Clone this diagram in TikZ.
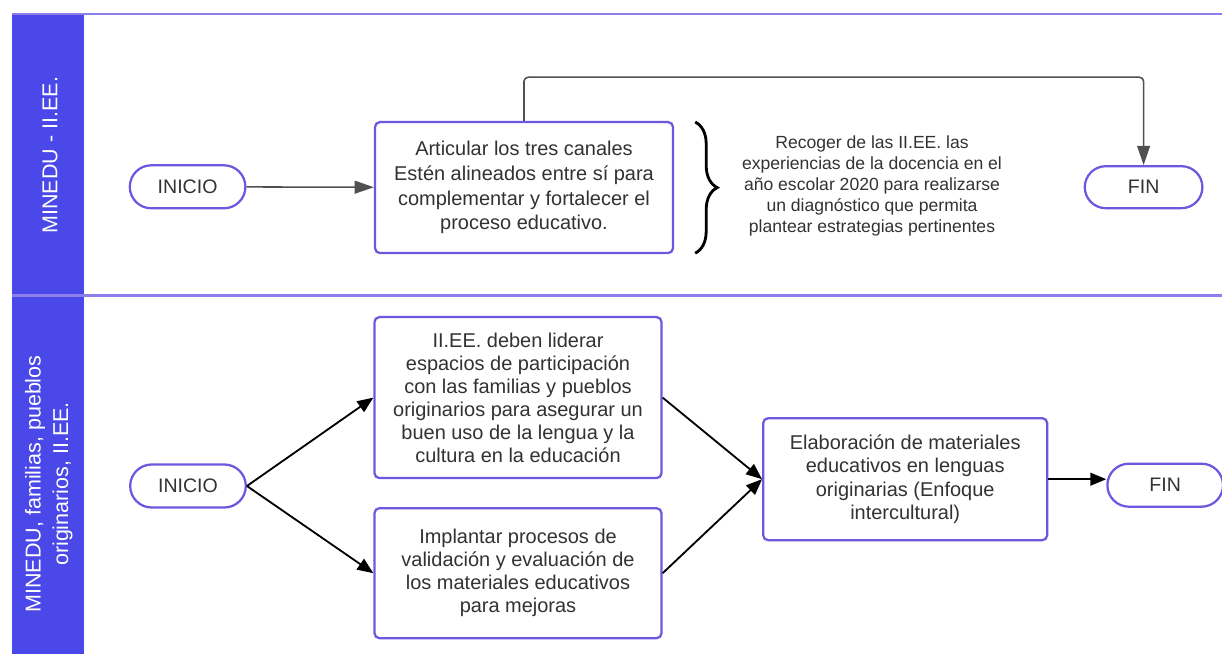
\documentclass[tikz,border=0pt]{standalone}
\usepackage{fontspec}
\setmainfont{Liberation Sans}
\usetikzlibrary{arrows.meta,shapes.misc,decorations.pathreplacing}

\definecolor{laneblue}{RGB}{74,72,232}
\definecolor{lanerule}{RGB}{140,126,236}
\definecolor{boxedge}{RGB}{108,88,222}
\definecolor{txtgray}{RGB}{50,50,50}
\definecolor{arrgray}{RGB}{80,80,80}

\begin{document}
\begin{tikzpicture}[
	proc/.style={draw=boxedge, line width=1.6pt, rounded corners=3.5pt, fill=white, align=center, text=txtgray, font=\fontsize{14.2}{16.4}\selectfont},
	term/.style={draw=boxedge, line width=1.6pt, rounded rectangle, minimum width=3.125cm, minimum height=1.075cm, text=txtgray, font=\fontsize{13.9}{16}\selectfont},
	flowg/.style={draw=arrgray, line width=1.1pt, -{Triangle[length=0.48cm,width=0.32cm]}},
	flowk/.style={draw=black, line width=1.3pt, -{Triangle[length=0.4cm,width=0.32cm]}},
	lanetxt/.style={text=white, rotate=90, align=center, font=\fontsize{15.3}{19.5}\selectfont}
	]
			\useasboundingbox (0,0) rectangle (30.55,-16.35);
			% lanes
			\fill[laneblue] (0.3,-0.33) rectangle (2.1,-16.35);
			\draw[lanerule, line width=2pt] (0.3,-0.35) -- (30.55,-0.35);
			\draw[lanerule, line width=2pt] (0.3,-7.38) -- (30.55,-7.38);
			\node[lanetxt] (lane1) at (1.25,-3.88) {MINEDU - II.EE.};
			\node[lanetxt] (lane2) at (1.22,-12.1) {MINEDU, familias, pueblos\\originarios, II.EE.};

			% first lane
			\node[term] (ini1) at (4.69,-4.67) {INICIO};
			\node[proc, minimum width=7.45cm, minimum height=3.275cm, font=\fontsize{14.2}{17.6}\selectfont] (box1) at (13.1,-4.69) {Articular los tres canales\\Estén alineados entre sí para\\complementar y fortalecer el\\proceso educativo.};
			\node[term, minimum width=3.175cm, minimum height=1.05cm] (fin1) at (28.59,-4.68) {FIN};
			\node[align=center, text=txtgray, font=\fontsize{12.5}{15}\selectfont] (nota) at (21.8,-4.65) {Recoger de las II.EE. las\\experiencias de la docencia en el\\año escolar 2020 para realizarse\\un diagnóstico que permita\\plantear estrategias pertinentes};
			\draw[decorate, decoration={brace, amplitude=0.55cm}, line width=2pt] (17.38,-3.05) -- (17.38,-6.33);
			\coordinate (toprun) at (20,-1.93);
			\draw[flowg] (ini1) -- (box1);
			\draw[flowg, rounded corners=3pt] (box1.north) |- (toprun) -| (fin1.north);

			% second lane
			\node[term] (ini2) at (4.7,-12.15) {INICIO};
			\node[proc, minimum width=7.175cm, minimum height=4.025cm] (boxA) at (12.95,-9.94) {II.EE. deben liderar\\espacios de participación\\con las familias y pueblos\\originarios para asegurar un\\buen uso de la lengua y la\\cultura en la educación};
			\node[proc, minimum width=7.175cm, minimum height=3.25cm] (boxB) at (12.95,-14.33) {Implantar procesos de\\validación y evaluación de\\los materiales educativos\\para mejoras};
			\node[proc, minimum width=7.1cm, minimum height=3.05cm] (boxC) at (22.63,-11.98) {Elaboración de materiales\\educativos en lenguas\\originarias (Enfoque\\intercultural)};
			\node[term] (fin2) at (29.13,-12.13) {FIN};
			\draw[flowk] (ini2.east) -- (boxA.west);
			\draw[flowk] (ini2.east) -- (boxB.west);
			\draw[flowk] (boxA.east) -- (boxC.west);
			\draw[flowk] (boxB.east) -- (boxC.west);
			\draw[flowk] (boxC.east) -- (boxC.east -| fin2.west);
\end{tikzpicture}
\end{document}
